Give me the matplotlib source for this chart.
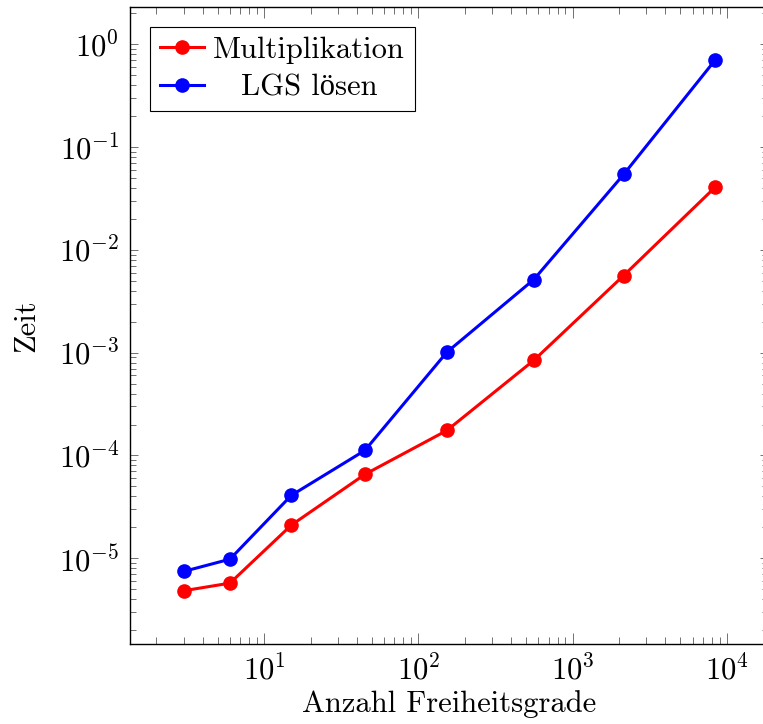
import numpy as np
import matplotlib
matplotlib.use("Agg")
import matplotlib.pyplot as plt
from matplotlib.ticker import LogLocator, NullFormatter

# Daten
dof = [3, 6, 15, 45, 153, 561, 2145, 8385]
zeit_mult = [4.83e-6, 5.73e-6, 2.10e-5, 6.55e-5, 1.75e-4, 8.43e-4, 5.63e-3, 4.05e-2]
zeit_lgs = [7.44e-6, 9.80e-6, 4.09e-5, 1.12e-4, 1.01e-3, 5.15e-3, 5.42e-2, 0.698]
labels = ["Multiplikation", "LGS lösen"]

# cmr10 hat kein "ö" -> Fallback-Schrift
plt.rcParams["font.family"] = ["cmr10", "Liberation Serif", "DejaVu Serif"]
plt.rcParams["mathtext.fontset"] = "cm"
plt.rcParams["axes.formatter.use_mathtext"] = True
plt.rcParams["font.size"] = 22

fig = plt.figure(figsize=(7.63, 7.24), dpi=100)
ax = fig.add_axes([0.1708, 0.1105, 0.8358, 0.8794])

ax.plot(dof, zeit_mult, color="red", lw=2.2, marker="o", ms=9.5, label=labels[0])
ax.plot(dof, zeit_lgs, color="blue", lw=2.2, marker="o", ms=9.5, label=labels[1])

ax.set_xscale("log")
ax.set_yscale("log")
ax.set_xlim(10 ** 0.132, 10 ** 4.268)
ax.set_ylim(10 ** -5.834, 10 ** 0.36)

for a in (ax.xaxis, ax.yaxis):
    a.set_major_locator(LogLocator(base=10, numticks=20))
    a.set_minor_locator(LogLocator(base=10, subs=np.arange(2, 10), numticks=20))
    a.set_minor_formatter(NullFormatter())

ax.tick_params(which="both", direction="in", top=True, right=True, width=0.6, color="0.35")
ax.tick_params(axis="x", which="major", length=8, pad=8)
ax.tick_params(axis="x", which="minor", length=5)
ax.tick_params(axis="y", which="major", length=6, pad=8)
ax.tick_params(axis="y", which="minor", length=4)
for s in ax.spines.values():
    s.set_linewidth(1.0)

ax.set_xlabel("Anzahl Freiheitsgrade", labelpad=3)
ax.set_ylabel("Zeit", labelpad=13)

leg = ax.legend(loc="upper left", bbox_to_anchor=(0.031, 0.9695), borderaxespad=0,
                fancybox=False, framealpha=1, edgecolor="black", handlelength=1.45,
                handletextpad=0.3, labelspacing=0.33, borderpad=0.32)
leg.get_frame().set_linewidth(0.8)

# Legendentexte zentrieren wie in pgfplots
fig.canvas.draw()
texts = leg.get_texts()
widths = [t.get_window_extent().width for t in texts]
wmax = max(widths)
for t, w in zip(texts, widths):
    t.set_x(t.get_position()[0] + (wmax - w) / 2)

fig.savefig("out.png", dpi=100)
